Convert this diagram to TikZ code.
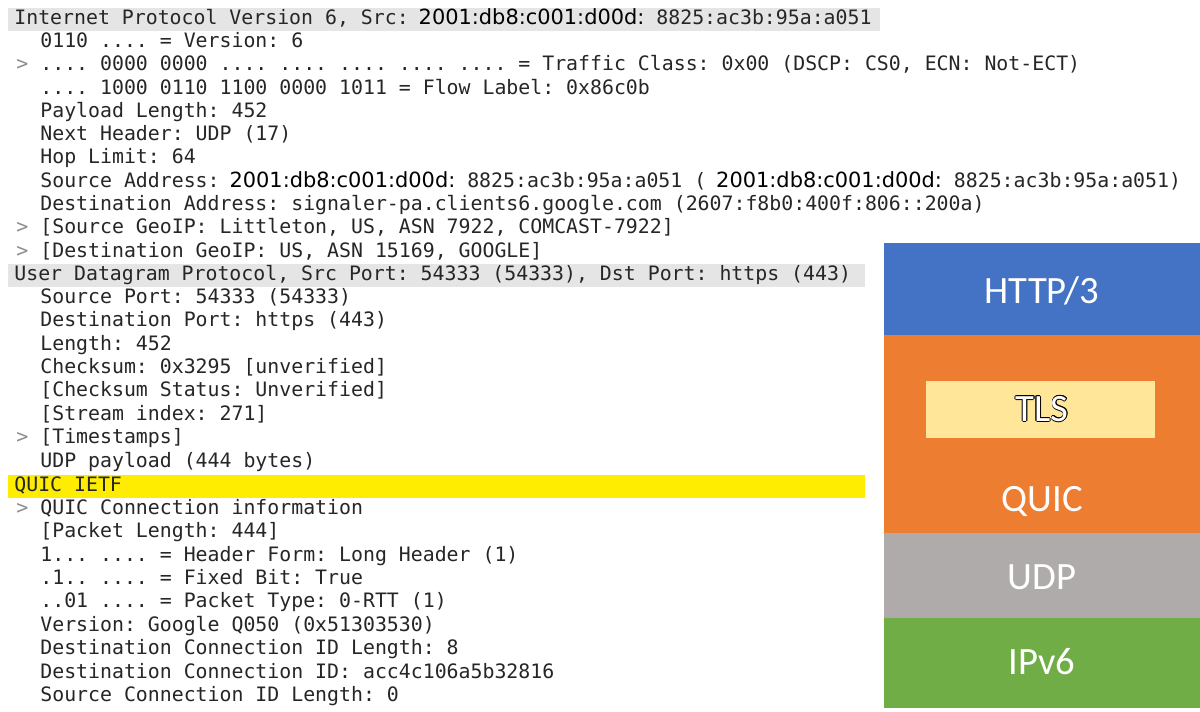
\documentclass[tikz,border=0pt]{standalone}
\usepackage{fontspec}
\setmonofont{DejaVu Sans Mono}
\newfontfamily\addrfont{DejaVu Sans}
\newfontfamily\calib{Carlito}
\newcommand{\monof}{\ttfamily\fontsize{11.3}{13}\selectfont}
\begin{document}
\begin{tikzpicture}[x=0.02cm,y=-0.02cm,
  ln/.style={anchor=base west,inner sep=0,font=\monof,text=black!85},
  arr/.style={anchor=base west,inner sep=0,font=\monof,text=black!45},
  lay/.style={inner sep=0,font=\calib\fontsize{22}{26}\selectfont,text=white}]
\useasboundingbox (0,0) rectangle (1200,711);
\fill[white] (0,0) rectangle (1200,711);
\fill[black!10] (8,8) rectangle (880,31);
\fill[black!10] (8,264) rectangle (865,287);
\fill[yellow!95!orange] (8,475) rectangle (865,498);
\newcommand{\ad}{\hspace{0.5em}\addrfont\fontsize{11.9}{13}\selectfont\textcolor{black}{2001:db8:c001:d00d:}\monof\hspace{0.6em}}
\node[ln] (l1) at (14,24) {Internet Protocol Version 6, Src:\ad 8825:ac3b:95a:a051};
\node[ln] (l2) at (40,47) {0110 .... = Version: 6};
\node[arr] (a3) at (16,70) {>};
\node[ln] (l3) at (40,70) {.... 0000 0000 .... .... .... .... .... = Traffic Class: 0x00 (DSCP: CS0, ECN: Not-ECT)};
\node[ln] (l4) at (40,94) {.... 1000 0110 1100 0000 1011 = Flow Label: 0x86c0b};
\node[ln] (l5) at (40,117) {Payload Length: 452};
\node[ln] (l6) at (40,140) {Next Header: UDP (17)};
\node[ln] (l7) at (40,163) {Hop Limit: 64};
\node[ln] (l8) at (40,187) {Source Address:\ad 8825:ac3b:95a:a051 (\ad 8825:ac3b:95a:a051)};
\node[ln] (l9) at (40,210) {Destination Address: signaler-pa.clients6.google.com (2607:f8b0:400f:806::200a)};
\node[arr] (a10) at (16,233) {>};
\node[ln] (l10) at (40,233) {[Source GeoIP: Littleton, US, ASN 7922, COMCAST-7922]};
\node[arr] (a11) at (16,257) {>};
\node[ln] (l11) at (40,257) {[Destination GeoIP: US, ASN 15169, GOOGLE]};
\node[ln] (l12) at (14,280) {User Datagram Protocol, Src Port: 54333 (54333), Dst Port: https (443)};
\node[ln] (l13) at (40,303) {Source Port: 54333 (54333)};
\node[ln] (l14) at (40,326) {Destination Port: https (443)};
\node[ln] (l15) at (40,350) {Length: 452};
\node[ln] (l16) at (40,373) {Checksum: 0x3295 [unverified]};
\node[ln] (l17) at (40,396) {[Checksum Status: Unverified]};
\node[ln] (l18) at (40,420) {[Stream index: 271]};
\node[arr] (a19) at (16,443) {>};
\node[ln] (l19) at (40,443) {[Timestamps]};
\node[ln] (l20) at (40,467) {UDP payload (444 bytes)};
\node[ln] (l21) at (14,491) {QUIC IETF};
\node[arr] (a22) at (16,514) {>};
\node[ln] (l22) at (40,514) {QUIC Connection information};
\node[ln] (l23) at (40,537) {[Packet Length: 444]};
\node[ln] (l24) at (40,561) {1... .... = Header Form: Long Header (1)};
\node[ln] (l25) at (40,584) {.1.. .... = Fixed Bit: True};
\node[ln] (l26) at (40,607) {..01 .... = Packet Type: 0-RTT (1)};
\node[ln] (l27) at (40,631) {Version: Google Q050 (0x51303530)};
\node[ln] (l28) at (40,654) {Destination Connection ID Length: 8};
\node[ln] (l29) at (40,678) {Destination Connection ID: acc4c106a5b32816};
\node[ln] (l30) at (40,701) {Source Connection ID Length: 0};
% stack
\fill[fill={rgb,255:red,68;green,114;blue,196}] (884,243) rectangle (1200,335);
\fill[fill={rgb,255:red,237;green,125;blue,49}] (884,335) rectangle (1200,533);
\fill[fill={rgb,255:red,175;green,171;blue,171}] (884,533) rectangle (1200,618);
\fill[fill={rgb,255:red,112;green,173;blue,71}] (884,618) rectangle (1200,708);
\fill[fill={rgb,255:red,255;green,230;blue,153}] (926,381) rectangle (1155,438);
\node[lay] (http) at (1042,291) {HTTP/3};
\node[lay] (quic) at (1042,502) {QUIC};
\node[lay] (udp) at (1042,577) {UDP};
\node[lay] (ip) at (1042,662) {IPv6};
\foreach \dx/\dy in {.6/0,-.6/0,0/.6,0/-.6,.45/.45,-.45/.45,.45/-.45,-.45/-.45}
  \node[lay,text=black] at (1042+\dx,409+\dy) {TLS};
\node[lay] (tls) at (1042,409) {TLS};
\end{tikzpicture}
\end{document}
